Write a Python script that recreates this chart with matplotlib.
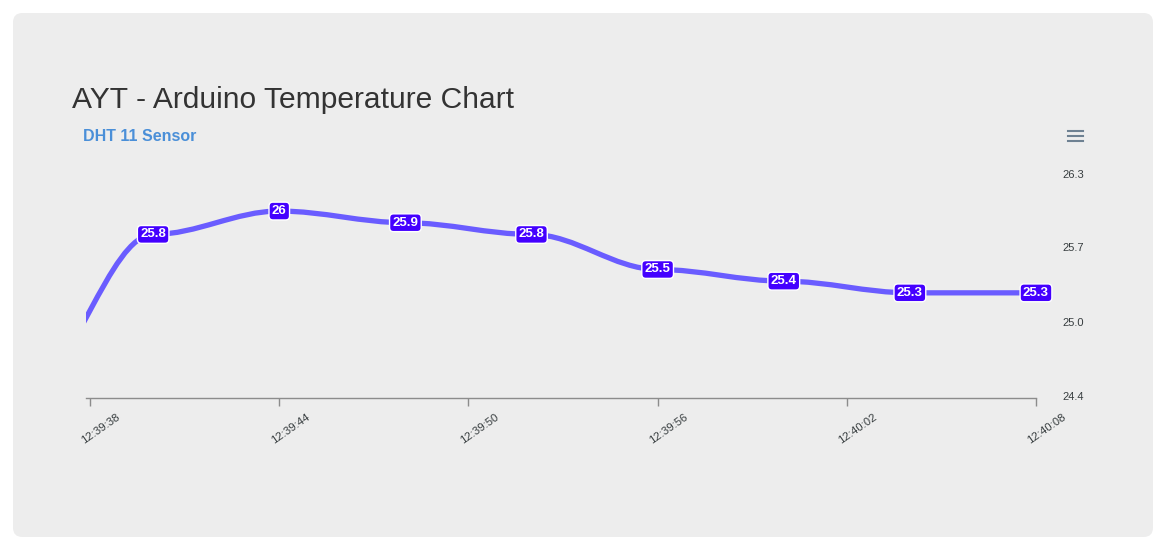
from datetime import datetime

import matplotlib
matplotlib.use("Agg")
import matplotlib.pyplot as plt
import matplotlib.dates as mdates
import matplotlib.patches as patches
from matplotlib.path import Path
from matplotlib.transforms import ScaledTranslation
from matplotlib.lines import Line2D

# Readings from the DHT 11 sensor (the first one is already scrolled off the left edge)
times = ["12:39:36", "12:39:40", "12:39:44", "12:39:48", "12:39:52",
         "12:39:56", "12:40:00", "12:40:04", "12:40:08"]
temps = [24.5, 25.8, 26.0, 25.9, 25.8, 25.5, 25.4, 25.3, 25.3]

x_ticks = ["12:39:38", "12:39:44", "12:39:50", "12:39:56", "12:40:02", "12:40:08"]
y_ticks = [24.4, 25.0333, 25.6667, 26.3]
y_range = (24.4, 26.3)

title = "AYT - Arduino Temperature Chart"
subtitle = "DHT 11 Sensor"

plt.rcParams["font.family"] = ["Liberation Sans", "DejaVu Sans"]

W, H = 1167, 550
fig = plt.figure(figsize=(W / 100, H / 100), dpi=100)
fig.patch.set_facecolor("white")

# grey card behind everything
card = patches.FancyBboxPatch((13 / W, 1 - 537 / H), (1153 - 13) / W, (537 - 13) / H,
                              boxstyle="round,pad=0,rounding_size=0.008",
                              transform=fig.transFigure, fc="#ededed", ec="none",
                              mutation_aspect=W / H, zorder=-5)
fig.patches.append(card)

left, right, top, bottom = 86, 1036, 176, 398
ax = fig.add_axes([left / W, 1 - bottom / H, (right - left) / W, (bottom - top) / H])
ax.set_facecolor("none")
ax.set_zorder(2)


def to_num(s):
    return mdates.date2num(datetime.strptime("2024-01-01 " + s, "%Y-%m-%d %H:%M:%S"))


xs = [to_num(t) for t in times]

# smooth curve, horizontal control points like the web chart draws it
verts = [(xs[0], temps[0])]
codes = [Path.MOVETO]
for i in range(1, len(xs)):
    dx = (xs[i] - xs[i - 1]) * 0.35
    verts += [(xs[i - 1] + dx, temps[i - 1]), (xs[i] - dx, temps[i]), (xs[i], temps[i])]
    codes += [Path.CURVE4] * 3
line = patches.PathPatch(Path(verts, codes), fill=False, ec="#6a5cff", lw=3.8,
                         capstyle="round", joinstyle="round", zorder=2)
ax.add_patch(line)

x0 = to_num(x_ticks[0])
x1 = to_num(x_ticks[-1])
ax.set_xlim(x0 - 0.13 / 86400, x1)
ax.set_ylim(*y_range)

# data labels
for x, v in zip(xs, temps):
    if x < x0 - 0.13 / 86400:
        continue
    ax.text(x, v, f"{v:g}", ha="center", va="center", color="white",
            fontsize=9.5, fontweight="bold", zorder=4, clip_on=False,
            bbox=dict(boxstyle="round,pad=0.22,rounding_size=0.3",
                      fc="#4400ff", ec="white", lw=1))

for s in ["top", "left", "right"]:
    ax.spines[s].set_visible(False)
ax.spines["bottom"].set_color("#8c8c8c")
ax.spines["bottom"].set_linewidth(1)

ax.set_xticks([to_num(t) for t in x_ticks])
ax.set_xticklabels(x_ticks)
ax.tick_params(axis="x", length=6, width=1, color="#8c8c8c", pad=16,
               labelsize=8.2, labelcolor="#373d3f")
for lab in ax.get_xticklabels():
    lab.set_rotation(35)
    lab.set_rotation_mode("anchor")
    lab.set_ha("center")
    lab.set_va("center")
    lab.set_transform(lab.get_transform() + ScaledTranslation(0.11, 0, fig.dpi_scale_trans))

ax.yaxis.tick_right()
ax.set_yticks(y_ticks)
ax.set_yticklabels([f"{v:.1f}" for v in y_ticks])
ax.tick_params(axis="y", length=0, pad=19, labelsize=8, labelcolor="#373d3f")
for lab in ax.get_yticklabels():
    lab.set_transform(lab.get_transform() + ScaledTranslation(0, 0.025, fig.dpi_scale_trans))

# title and subtitle
fig.text(72 / W, 1 - 108 / H, title, fontsize=21.6, color="#333333", va="baseline")
fig.text(83 / W, 1 - 141 / H, subtitle, fontsize=11.5, fontweight="bold",
         color="#4a8fd8", va="baseline")

# toolbar menu icon
for yy in (131, 136, 141):
    fig.add_artist(Line2D([1068 / W, 1083 / W], [1 - yy / H, 1 - yy / H],
                          color="#6e8192", lw=1.5, transform=fig.transFigure))

fig.savefig("out.png", dpi=100, facecolor=fig.get_facecolor())
